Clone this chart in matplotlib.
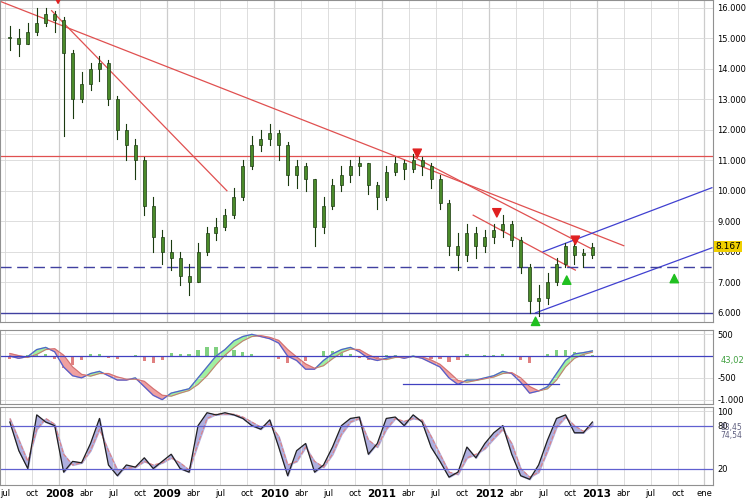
import numpy as np
import matplotlib
matplotlib.use("Agg")
import matplotlib.pyplot as plt

# monthly data, Jul 2007 .. Dec 2012
close = [15.0, 14.8, 15.2, 15.5, 15.8, 15.6,
         14.5, 13.0, 13.5, 14.0, 14.2, 13.0, 12.0, 11.5, 11.0, 9.5, 8.5, 8.0,
         7.8, 7.2, 7.0, 8.0, 8.6, 8.8, 9.2, 9.8, 10.8, 11.5, 11.7, 11.9,
         11.5, 10.5, 10.8, 10.4, 8.8, 9.5, 10.2, 10.5, 10.8, 10.9, 10.2, 9.8,
         10.6, 10.9, 10.7, 11.0, 10.8, 10.4, 9.6, 8.2, 7.9, 8.6, 8.2, 8.5,
         8.7, 8.9, 8.4, 7.5, 6.4, 6.5, 7.0, 7.6, 8.2, 7.9, 7.9, 8.17]
high = [15.4, 15.3, 15.5, 16.0, 16.0, 15.9,
        15.7, 14.6, 13.9, 14.2, 14.4, 14.3, 13.1, 12.2, 11.7, 11.1, 9.8, 8.7,
        8.4, 8.0, 7.6, 8.3, 8.8, 9.1, 9.4, 10.1, 11.0, 11.8, 12.0, 12.2,
        12.0, 11.6, 11.0, 10.9, 10.4, 9.8, 10.4, 10.8, 11.0, 11.1, 10.9, 10.3,
        10.8, 11.1, 11.0, 11.2, 11.1, 10.9, 10.5, 9.7, 8.6, 8.9, 8.8, 8.7,
        8.9, 9.2, 9.0, 8.5, 7.6, 6.9, 7.3, 7.8, 8.3, 8.3, 8.1, 8.3]
low = [14.6, 14.4, 14.8, 15.1, 15.4, 15.2,
       11.8, 12.4, 12.9, 13.3, 13.6, 12.8, 11.7, 11.0, 10.4, 9.2, 8.0, 7.6,
       7.4, 6.9, 6.6, 7.0, 7.9, 8.4, 8.7, 9.1, 9.7, 10.7, 11.3, 11.5,
       11.0, 10.2, 10.1, 10.0, 8.2, 8.6, 9.4, 10.0, 10.3, 10.5, 9.9, 9.4,
       9.7, 10.5, 10.4, 10.6, 10.5, 10.1, 9.4, 7.9, 7.4, 7.7, 7.8, 8.0,
       8.3, 8.5, 8.2, 7.3, 6.0, 5.9, 6.3, 6.9, 7.5, 7.6, 7.5, 7.8]
macd = [0, -50, -10, 150, 200, 100,
        -250, -450, -500, -400, -350, -450, -550, -550, -500, -700, -900, -1000,
        -850, -800, -750, -500, -250, 0, 150, 350, 450, 500, 450, 400,
        300, 0, -100, -300, -300, -100, 50, 150, 200, 100, -50, -100,
        -50, 0, -50, 0, -50, -150, -250, -500, -650, -550, -550, -500,
        -450, -350, -400, -600, -850, -800, -700, -400, -100, 50, 80, 120]
signal = [60, 10, -30, 40, 150, 170,
          20, -250, -420, -460, -400, -400, -480, -530, -530, -580, -750, -900,
          -920, -850, -790, -650, -450, -200, 20, 200, 350, 450, 470, 430,
          360, 150, -20, -180, -280, -220, -60, 80, 160, 150, 30, -60,
          -80, -30, -20, -10, -20, -90, -190, -370, -560, -600, -560, -520,
          -480, -400, -380, -500, -700, -800, -750, -550, -250, -50, 40, 90]
stoch_k = [85, 45, 20, 95, 85, 80,
           15, 30, 28, 55, 90, 25, 10, 25, 22, 35, 20, 30,
           40, 20, 15, 80, 98, 95, 98, 95, 90, 80, 75, 88,
           50, 10, 45, 55, 15, 25, 50, 80, 90, 92, 40, 55,
           90, 92, 80, 95, 85, 50, 30, 8, 15, 50, 35, 55,
           70, 80, 40, 10, 5, 25, 60, 90, 95, 70, 70, 85]
stoch_d = [90, 60, 30, 75, 90, 82,
           40, 25, 28, 45, 75, 45, 18, 20, 22, 30, 25, 28,
           35, 28, 18, 55, 90, 96, 96, 96, 92, 85, 78, 82,
           65, 25, 30, 50, 30, 22, 40, 68, 85, 90, 60, 50,
           75, 90, 86, 90, 88, 65, 40, 15, 12, 35, 40, 48,
           62, 75, 55, 20, 8, 15, 45, 78, 92, 80, 72, 80]

price_ticks = [6, 7, 8, 9, 10, 11, 12, 13, 14, 15, 16]
last_label = "8.167"

# annotation lines: (x0, y0, x1, y1) in (year, price)
red_lines = [(2007.42, 16.25, 2013.25, 8.2), (2007.93, 15.9, 2009.56, 10.0),
             (2011.3, 11.1, 2012.95, 8.1), (2011.85, 9.2, 2012.8, 7.4)]
blue_lines = [(2012.43, 6.0, 2014.07, 8.13), (2012.5, 8.0, 2014.07, 10.1)]
red_arrows = [(2007.99, 16.3), (2011.33, 11.25), (2012.07, 9.3), (2012.8, 8.4)]
green_arrows = [(2012.43, 5.7), (2012.72, 7.05), (2013.72, 7.1)]

t = 2007.5 + np.arange(len(close)) / 12.0 + 1 / 24
opens = [close[0]] + close[:-1]

fig = plt.figure(figsize=(7.46, 5.0), dpi=100)
W = 713 / 746
ax = fig.add_axes([0, 1 - 322 / 500, W, 322 / 500])
ax2 = fig.add_axes([0, 1 - 404 / 500, W, 74 / 500])
ax3 = fig.add_axes([0, 1 - 485 / 500, W, 78 / 500])
xmin, xmax = 2007.45, 2014.08

# price
for i, x in enumerate(t):
    ax.plot([x, x], [low[i], high[i]], color="#1a3a10", lw=0.8, zorder=3)
    b0, b1 = sorted([opens[i], close[i]])
    ax.bar(x, max(b1 - b0, 0.05), bottom=b0, width=0.028, color="#4a8a2a",
           edgecolor="#1a3a10", lw=0.5, zorder=4)
for x0, y0, x1, y1 in red_lines:
    ax.plot([x0, x1], [y0, y1], color="#e05050", lw=0.9, zorder=2)
for x0, y0, x1, y1 in blue_lines:
    ax.plot([x0, x1], [y0, y1], color="#4040d0", lw=0.9, zorder=2)
ax.axhline(11.15, color="#e05050", lw=0.9)
ax.axhline(7.5, color="#4040a0", lw=1, ls=(0, (8, 4)))
ax.axhline(6.0, color="#4040a0", lw=1)
for x, y in red_arrows:
    ax.annotate("", (x, y - 0.25), (x, y + 0.05),
                arrowprops=dict(arrowstyle="simple", color="#e02020", mutation_scale=12))
for x, y in green_arrows:
    ax.annotate("", (x, y + 0.25), (x, y - 0.05),
                arrowprops=dict(arrowstyle="simple", color="#20c020", mutation_scale=12))
ax.set_ylim(5.7, 16.25)
ax.set_yticks(price_ticks)
ax.set_yticklabels([f"{v:.3f}" for v in price_ticks])
ax.text(1.003, (close[-1] - 5.7) / (16.25 - 5.7), last_label, transform=ax.transAxes,
        fontsize=6.5, va="center", bbox=dict(fc="#f0d000", ec="none", pad=0.5))

# macd
hist = np.array(macd) - np.array(signal)
ax2.bar(t, hist, width=0.03, color=["#80d080" if h > 0 else "#e08080" for h in hist])
ax2.fill_between(t, macd, signal, where=np.array(macd) >= np.array(signal),
                 color="#a0f0a0", interpolate=True)
ax2.fill_between(t, macd, signal, where=np.array(macd) < np.array(signal),
                 color="#f0a0a0", interpolate=True)
ax2.plot(t, macd, color="#5060d0", lw=0.9)
ax2.plot(t, signal, color="#d07070", lw=0.7)
ax2.axhline(0, color="#4040c0", lw=0.9)
ax2.plot([2011.2, 2012.65], [-650, -650], color="#4040c0", lw=0.9)
ax2.set_ylim(-1100, 600)
ax2.set_yticks([500, -500, -1000])
ax2.set_yticklabels(["500", "-500", "-1.000"])
ax2.text(1.01, 0.55, "43,02", transform=ax2.transAxes, fontsize=6, color="#40a040")

# stochastic
ax3.fill_between(t, stoch_k, stoch_d, color="#b0b0e0")
ax3.plot(t, stoch_d, color="#e08080", lw=0.8, ls="--")
ax3.plot(t, stoch_k, color="#202020", lw=0.9)
ax3.axhline(80, color="#6060d0", lw=0.9)
ax3.axhline(20, color="#6060d0", lw=0.9)
ax3.set_ylim(-3, 106)
ax3.set_yticks([100, 80, 20])
ax3.text(1.01, 0.6, "83,45\n74,54", transform=ax3.transAxes, fontsize=5.5,
         color="#606080", linespacing=0.9)

ticks, labels = [], []
for y in range(2007, 2015):
    for q, name in ((0.0, str(y)), (0.25, "abr"), (0.5, "jul"), (0.75, "oct")):
        if name == "2014":
            name = "ene"
        v = y + q
        if xmin < v < xmax + 0.05:
            ticks.append(v)
            labels.append(name)
for a in (ax, ax2, ax3):
    a.set_xlim(xmin, xmax)
    a.set_xticks(ticks)
    a.grid(True, color="#d8d8d8", lw=0.6)
    for v in ticks:
        if v == int(v):
            a.axvline(v, color="#909090", lw=0.8, zorder=0)
    a.yaxis.tick_right()
    a.tick_params(labelsize=6, length=0, pad=3)
    a.set_facecolor("white")
    for s in a.spines.values():
        s.set_color("#909090")
ax.set_xticklabels([])
ax2.set_xticklabels([])
ax3.set_xticklabels(labels)
for lab in ax3.get_xticklabels():
    if lab.get_text().isdigit():
        lab.set_fontweight("bold")
        lab.set_fontsize(7.5)

fig.savefig("out.png", dpi=100)
